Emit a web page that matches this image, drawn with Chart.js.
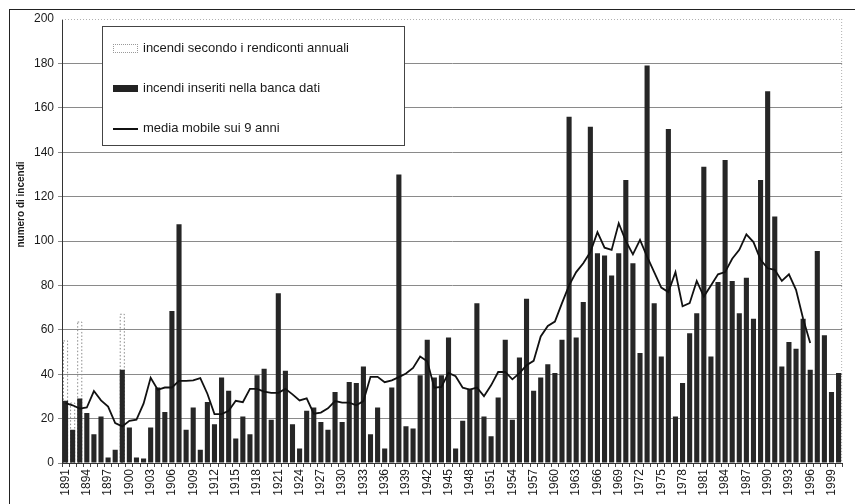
<!DOCTYPE html>
<html>
<head>
<meta charset="utf-8">
<script src="https://cdn.jsdelivr.net/npm/chart.js@4.4.0/dist/chart.umd.min.js"></script>
<style>
  body { margin: 0; background: #fff; }
  #wrap { position: relative; width: 855px; height: 504px; overflow: hidden; font-family: 'Liberation Sans', Arial, sans-serif; color: #1a1a1a; }
  #grafico { position: absolute; left: 0; top: 0; }
  #frame { position: absolute; left: 9px; top: 9px; width: 900px; height: 600px; border-left: 1.5px solid #222; border-top: 1.5px solid #222; pointer-events: none; }
  #ytitle { position: absolute; left: -40px; top: 199px; width: 120px; text-align: center; font-weight: bold; font-size: 10px; transform: rotate(-90deg); }
  #legenda { position: absolute; left: 102px; top: 26px; width: 301px; height: 118px; border: 1px solid #444; background: #fff; font-size: 13px; }
  .voce { position: absolute; left: 10px; height: 16px; line-height: 16px; white-space: nowrap; }
  .simb { display: inline-block; width: 25px; vertical-align: middle; margin-right: 5px; box-sizing: border-box; }
</style>
</head>
<body>
<div id="wrap">
  <canvas id="grafico" width="855" height="504"></canvas>
  <div id="frame"></div>
  <div id="ytitle">numero di incendi</div>
  <div id="legenda">
    <div class="voce" style="top:13px"><span class="simb" style="height:9px;border:1px dotted #999"></span>incendi secondo i rendiconti annuali</div>
    <div class="voce" style="top:53px"><span class="simb" style="height:7px;background:#222"></span>incendi inseriti nella banca dati</div>
    <div class="voce" style="top:93px"><span class="simb" style="height:2px;background:#111"></span>media mobile sui 9 anni</div>
  </div>
</div>
<script>
const anni = [
  1891, 1892, 1893, 1894, 1895, 1896, 1897, 1898, 1899, 1900,
  1901, 1902, 1903, 1904, 1905, 1906, 1907, 1908, 1909, 1910,
  1911, 1912, 1913, 1914, 1915, 1916, 1917, 1918, 1919, 1920,
  1921, 1922, 1923, 1924, 1925, 1926, 1927, 1928, 1929, 1930,
  1931, 1932, 1933, 1934, 1935, 1936, 1937, 1938, 1939, 1940,
  1941, 1942, 1943, 1944, 1945, 1946, 1947, 1948, 1949, 1950,
  1951, 1952, 1953, 1954, 1955, 1956, 1957, 1958, 1959, 1960,
  1961, 1962, 1963, 1964, 1965, 1966, 1967, 1968, 1969, 1970,
  1971, 1972, 1973, 1974, 1975, 1976, 1977, 1978, 1979, 1980,
  1981, 1982, 1983, 1984, 1985, 1986, 1987, 1988, 1989, 1990,
  1991, 1992, 1993, 1994, 1995, 1996, 1997, 1998, 1999, 2000
];

// incendi inseriti nella banca dati (1891-2000)
const incendiBanca = [
  28, 15, 29, 22.5, 13, 21, 2.5, 6, 42, 16,
  2.5, 2, 16, 34, 23, 68.5, 107.5, 15, 25, 6,
  27.5, 17.5, 38.5, 32.5, 11, 21, 13, 39.5, 42.5, 19.5,
  76.5, 41.5, 17.5, 6.5, 23.5, 25, 18.5, 15, 32, 18.5,
  36.5, 36, 43.5, 13, 25, 6.5, 34, 130, 16.5, 15.5,
  39.5, 55.5, 38.5, 39.5, 56.5, 6.5, 19, 33.5, 72, 21,
  12, 29.5, 55.5, 19.5, 47.5, 74, 32.5, 38.5, 44.5, 40.5,
  55.5, 156, 56.5, 72.5, 151.5, 94.5, 93.5, 84.5, 94.5, 127.5,
  90, 49.5, 179, 72, 48, 150.5, 21, 36, 58.5, 67.5,
  133.5, 48, 81.5, 136.5, 82, 67.5, 83.5, 65, 127.5, 167.5,
  111, 43.5, 54.5, 51.5, 65, 42, 95.5, 57.5, 32, 40.5
];

// incendi secondo i rendiconti annuali
const anniRendiconti = [1891, 1892, 1893, 1899];
const valoriRendiconti = [55, 27, 63.5, 67];

// media mobile sui 9 anni (1891-1996)
const mediaMobile = [
  27, 26, 24.5, 25, 32.4, 28.2, 25.4, 18, 16.5, 19,
  19.5, 26.7, 38.4, 33, 34, 34, 37, 37, 37.2, 38.2,
  31.2, 22, 22, 23.5, 28, 27.4, 33.4, 33.4, 32.2, 31.6,
  31.6, 33.4, 30.9, 28.2, 29.1, 22.2, 22.7, 24.6, 27.9, 27.2,
  27.2, 26, 27.9, 38.8, 38.8, 36.4, 37.2, 38.7, 40.3, 42.8,
  48, 45.8, 33.9, 34.3, 40.6, 39.1, 33.9, 33.1, 34, 30.1,
  35, 41, 41, 37.7, 40.5, 44, 46, 57, 61.7, 63.7,
  72, 80, 86, 90, 95, 104, 97, 96, 108, 100,
  94, 100.5, 93, 86, 79, 77, 86, 70.6, 72, 82,
  75, 80, 85, 86, 92, 96, 103, 99.5, 91.5, 87.7,
  87, 82, 85, 78, 65, 54
];

const etichetteAnni = ['1891', '1894', '1897', '1900', '1903', '1906', '1909', '1912', '1915', '1918',
  '1921', '1924', '1927', '1930', '1933', '1936', '1939', '1942', '1945', '1948', '1951', '1954',
  '1957', '1960', '1963', '1966', '1969', '1972', '1975', '1978', '1981', '1984', '1987', '1990',
  '1993', '1996', '1999'];

const datiRendiconti = anni.map((a) => {
  const k = anniRendiconti.indexOf(a);
  return k >= 0 ? valoriRendiconti[k] : null;
});

Chart.defaults.font.family = "'Liberation Sans', Arial, sans-serif";
Chart.defaults.color = '#1a1a1a';

/* riquadri tratteggiati per i rendiconti e bordo dell'area del grafico */
const tratteggio = {
  id: 'tratteggio',
  beforeDatasetsDraw(chart) {
    const { ctx, chartArea: a } = chart;
    ctx.save();
    ctx.strokeStyle = '#b0b0b0';
    ctx.lineWidth = 1;
    ctx.setLineDash([1, 2]);
    ctx.beginPath();
    ctx.moveTo(a.left, a.top + 0.5);
    ctx.lineTo(a.right, a.top + 0.5);
    ctx.moveTo(a.right - 0.5, a.top);
    ctx.lineTo(a.right - 0.5, a.bottom);
    ctx.stroke();
    ctx.restore();
  },
  afterDatasetDraw(chart, args) {
    if (args.index !== 0) return;
    const ctx = chart.ctx;
    ctx.save();
    ctx.strokeStyle = '#8a8a8a';
    ctx.lineWidth = 1;
    ctx.setLineDash([1.5, 2]);
    args.meta.data.forEach((el, i) => {
      if (datiRendiconti[i] == null) return;
      const p = el.getProps(['x', 'y', 'base', 'width'], true);
      ctx.strokeRect(p.x - p.width / 2 + 0.5, p.y, p.width - 1, p.base - p.y);
    });
    ctx.restore();
  }
};

new Chart(document.getElementById('grafico'), {
  type: 'bar',
  data: {
    labels: anni.map(String),
    datasets: [
      {
        label: 'incendi secondo i rendiconti annuali',
        data: datiRendiconti,
        backgroundColor: 'rgba(0,0,0,0)',
        borderWidth: 0,
        grouped: false,
        barPercentage: 0.72,
        categoryPercentage: 1,
        order: 3
      },
      {
        label: 'incendi inseriti nella banca dati',
        data: incendiBanca,
        backgroundColor: '#262626',
        borderWidth: 0,
        grouped: false,
        barPercentage: 0.72,
        categoryPercentage: 1,
        order: 2
      },
      {
        type: 'line',
        label: 'media mobile sui 9 anni',
        data: mediaMobile,
        borderColor: '#111',
        borderWidth: 1.8,
        pointRadius: 0,
        tension: 0,
        fill: false,
        order: 1
      }
    ]
  },
  options: {
    responsive: false,
    animation: false,
    layout: { padding: { top: 19, right: 4, left: 0, bottom: 0 } },
    plugins: {
      legend: { display: false },
      tooltip: { enabled: false }
    },
    scales: {
      x: {
        offset: true,
        grid: { display: true, drawOnChartArea: false, offset: true, tickLength: 4, color: '#444' },
        border: { color: '#333', width: 1 },
        ticks: {
          autoSkip: false,
          minRotation: 90,
          maxRotation: 90,
          padding: 2,
          font: { size: 12 },
          callback(v, i) {
            const l = String(anni[i]);
            return etichetteAnni.includes(l) ? l : '';
          }
        },
        afterFit(s) { s.height = 41; }
      },
      y: {
        min: 0,
        max: 200,
        ticks: { stepSize: 20, padding: 4, font: { size: 12 } },
        grid: {
          tickLength: 4,
          color: (c) => (c.tick && c.tick.value === 200 ? 'rgba(0,0,0,0)' : '#8a8a8a')
        },
        border: { color: '#333', width: 1 },
        afterFit(s) { s.width = 62; }
      }
    }
  },
  plugins: [tratteggio]
});
</script>
</body>
</html>
